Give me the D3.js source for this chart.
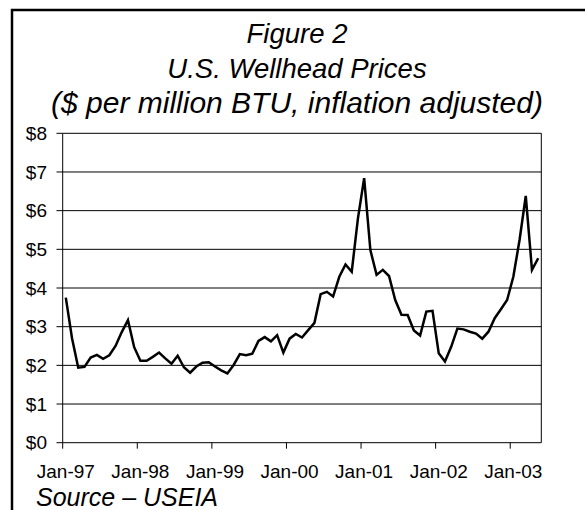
<!DOCTYPE html>
<html>
<head>
<meta charset="utf-8">
<script src="https://cdn.jsdelivr.net/npm/d3@7"></script>
<style>
  body { margin: 0; background: #fff; }
  svg { display: block; font-family: "Liberation Sans", Arial, sans-serif; }
</style>
</head>
<body>
<svg width="585" height="510"></svg>
<script>
// **** Data ****
var startMonth = new Date(1997, 0, 1);
var prices = [
    3.75, 2.70, 1.94, 1.96, 2.20, 2.27, 2.17, 2.26, 2.50, 2.86, 3.17, 2.47,
    2.12, 2.12, 2.22, 2.33, 2.18, 2.04, 2.25, 1.95, 1.81, 1.97, 2.07, 2.08,
    1.97, 1.87, 1.79, 2.01, 2.29, 2.26, 2.30, 2.63, 2.73, 2.62, 2.78, 2.33,
    2.69, 2.81, 2.72, 2.91, 3.10, 3.84, 3.90, 3.78, 4.29, 4.61, 4.42, 5.80,
    6.84, 4.98, 4.34, 4.47, 4.31, 3.69, 3.31, 3.30, 2.90, 2.77, 3.39, 3.41,
    2.31, 2.10, 2.48, 2.95, 2.93, 2.87, 2.82, 2.69, 2.87, 3.22, 3.45, 3.69,
    4.29, 5.24, 6.38, 4.47, 4.77
];
var months = prices.map(function(p, i) { return d3.timeMonth.offset(startMonth, i); });
var yTicks = [0, 1, 2, 3, 4, 5, 6, 7, 8];
var xTickLabels = ['Jan-97', 'Jan-98', 'Jan-99', 'Jan-00', 'Jan-01', 'Jan-02', 'Jan-03'];
var titleLines = ['Figure 2', 'U.S. Wellhead Prices', '($ per million BTU, inflation adjusted)'];

// **** Scales ****
var fmt = d3.timeFormat('%b-%y');
var xScale = d3.scaleBand()
    .domain(months.map(fmt)).range([62.7, 541.3]).padding(0);

var yScale = d3.scaleLinear()
    .domain([0, 8]).range([442.7, 133.3]);

var svg = d3.select('svg');

// outer frame (only top and left edges are inside the picture)
svg.append('path')
    .attr('d', 'M12,520 V10 H600')
    .attr('fill', 'none')
    .attr('stroke', '#000')
    .attr('stroke-width', 2.5);

// title (last line is set a bit larger, as in the original)
svg.append('g').selectAll('text')
    .data(titleLines)
    .enter()
    .append('text')
    .attr('x', 297)
    .attr('y', function(d, i) { return 43 + i * 35; })
    .attr('text-anchor', 'middle')
    .attr('font-style', 'italic')
    .attr('font-size', function(d, i) { return i == 2 ? 30 : 27.5; })
    .text(function(d) { return d; });

// gridlines
svg.append('g').selectAll('line')
    .data(yTicks.filter(function(d) { return d > 0; }))
    .enter()
    .append('line')
    .attr('x1', 62.7).attr('x2', 541.3)
    .attr('y1', function(d) { return yScale(d); })
    .attr('y2', function(d) { return yScale(d); })
    .attr('stroke', '#000')
    .attr('stroke-width', 1);

// right border of plot area
svg.append('line')
    .attr('x1', 541.3).attr('x2', 541.3)
    .attr('y1', yScale(8)).attr('y2', yScale(0))
    .attr('stroke', '#000');

// y axis
var yAxis = svg.append('g').attr('class', 'y axis');
yAxis.append('line')
    .attr('x1', 62.7).attr('x2', 62.7)
    .attr('y1', yScale(8)).attr('y2', yScale(0))
    .attr('stroke', '#000');
yAxis.selectAll('line.tick')
    .data(yTicks)
    .enter()
    .append('line')
    .attr('class', 'tick')
    .attr('x1', 56.5).attr('x2', 62.7)
    .attr('y1', function(d) { return yScale(d); })
    .attr('y2', function(d) { return yScale(d); })
    .attr('stroke', '#000');
yAxis.selectAll('text')
    .data(yTicks)
    .enter()
    .append('text')
    .attr('x', 47)
    .attr('y', function(d) { return yScale(d); })
    .attr('dy', '0.35em')
    .attr('text-anchor', 'end')
    .attr('font-size', 19)
    .text(function(d) { return '$' + d; });

// x axis
var xAxis = svg.append('g').attr('class', 'x axis');
xAxis.append('line')
    .attr('x1', 62.7).attr('x2', 541.3)
    .attr('y1', yScale(0)).attr('y2', yScale(0))
    .attr('stroke', '#000');
xAxis.selectAll('line.tick')
    .data(xTickLabels)
    .enter()
    .append('line')
    .attr('class', 'tick')
    .attr('x1', function(d) { return xScale(d); })
    .attr('x2', function(d) { return xScale(d); })
    .attr('y1', yScale(0)).attr('y2', yScale(0) + 6)
    .attr('stroke', '#000');
xAxis.selectAll('text')
    .data(xTickLabels)
    .enter()
    .append('text')
    .attr('x', function(d) { return xScale(d) + xScale.bandwidth() / 2; })
    .attr('y', 478)
    .attr('text-anchor', 'middle')
    .attr('font-size', 19)
    .text(function(d) { return d; });

// source note
svg.append('text')
    .attr('x', 36)
    .attr('y', 506)
    .attr('font-style', 'italic')
    .attr('font-size', 25)
    .text('Source \u2013 USEIA');

// price line
var line = d3.line()
    .x(function(d, i) { return xScale(fmt(months[i])) + xScale.bandwidth() / 2; })
    .y(function(d) { return yScale(d); });

svg.append('path')
    .datum(prices)
    .attr('d', line)
    .attr('fill', 'none')
    .attr('stroke', '#000')
    .attr('stroke-width', 2.5)
    .attr('stroke-linejoin', 'miter');
</script>
</body>
</html>
